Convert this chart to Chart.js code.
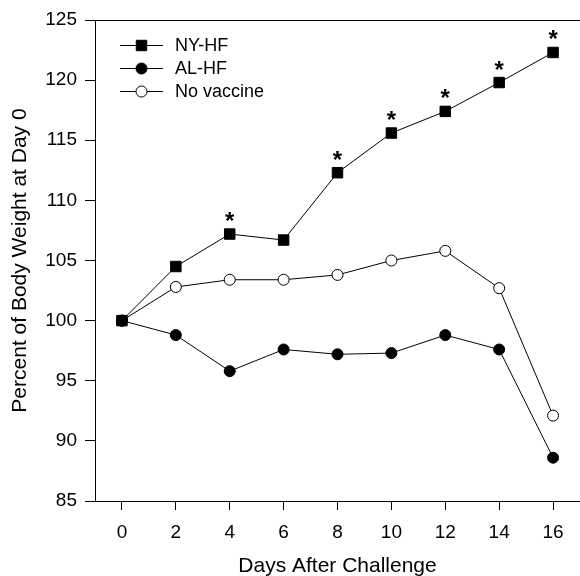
<!DOCTYPE html>
<html>
<head>
<meta charset="utf-8">
<script src="https://cdn.jsdelivr.net/npm/chart.js@4.4.1/dist/chart.umd.min.js"></script>
<style>
  html, body { margin: 0; padding: 0; background: #fff; }
  #wrap { width: 580px; height: 576px; }
</style>
</head>
<body>
<div id="wrap"><canvas id="c" width="580" height="576"></canvas></div>
<script>
// Body weight (% of day 0) after challenge, by vaccine group
const days = [0, 2, 4, 6, 8, 10, 12, 14, 16];
const nyHF = [100, 104.5, 107.2, 106.7, 112.3, 115.6, 117.4, 119.8, 122.3];
const alHF = [100, 98.8, 95.8, 97.6, 97.2, 97.3, 98.8, 97.6, 88.6];
const noVaccine = [100, 102.8, 103.4, 103.4, 103.8, 105.0, 105.8, 102.7, 92.1];
const seriesNames = ['NY-HF', 'AL-HF', 'No vaccine'];
// days where NY-HF differs significantly (marked with *)
const significantDays = [4, 8, 10, 12, 14, 16];
const xTicks = [0, 2, 4, 6, 8, 10, 12, 14, 16];
const yTicks = [85, 90, 95, 100, 105, 110, 115, 120, 125];

const FONT = 'Arial, "Liberation Sans", Helvetica, sans-serif';

function toPoints(values) {
  return days.map((d, i) => ({ x: d, y: values[i] }));
}

function series(label, values, style, fill, radius) {
  return {
    label: label,
    data: toPoints(values),
    borderColor: '#000',
    borderWidth: 1,
    tension: 0,
    fill: false,
    pointStyle: style,
    pointRadius: radius,
    pointHoverRadius: radius,
    pointBackgroundColor: fill,
    pointBorderColor: '#000',
    pointBorderWidth: 1
  };
}

// asterisks above the significant NY-HF points
const asteriskPlugin = {
  id: 'asterisks',
  afterDatasetsDraw(chart) {
    const ctx = chart.ctx;
    const meta = chart.getDatasetMeta(0);
    ctx.save();
    ctx.font = 'bold 24px ' + FONT;
    ctx.textAlign = 'center';
    ctx.textBaseline = 'alphabetic';
    ctx.fillStyle = '#000';
    significantDays.forEach(d => {
      const p = meta.data[days.indexOf(d)];
      ctx.fillText('*', p.x, p.y - 5);
    });
    ctx.restore();
  }
};

// legend drawn inside the plot, line sample with marker
const insideLegend = {
  id: 'insideLegend',
  afterDraw(chart) {
    const ctx = chart.ctx;
    const a = chart.chartArea;
    const x0 = a.left + 25, x1 = a.left + 68, tx = a.left + 80;
    let y = a.top + 25;
    chart.data.datasets.forEach(ds => {
      ctx.save();
      ctx.strokeStyle = ds.borderColor;
      ctx.lineWidth = ds.borderWidth;
      ctx.beginPath();
      ctx.moveTo(x0, Math.round(y) + 0.5);
      ctx.lineTo(x1, Math.round(y) + 0.5);
      ctx.stroke();
      ctx.fillStyle = ds.pointBackgroundColor;
      ctx.strokeStyle = ds.pointBorderColor;
      ctx.lineWidth = ds.pointBorderWidth;
      Chart.helpers.drawPoint(ctx, {
        pointStyle: ds.pointStyle,
        radius: ds.pointRadius,
        borderWidth: ds.pointBorderWidth,
        rotation: 0
      }, (x0 + x1) / 2, y + 0.5);
      ctx.fillStyle = '#000';
      ctx.font = '18px ' + FONT;
      ctx.textBaseline = 'middle';
      ctx.textAlign = 'left';
      ctx.fillText(ds.label, tx, y + 1);
      ctx.restore();
      y += 23;
    });
  }
};

// top frame line
const topFrame = {
  id: 'topFrame',
  afterDraw(chart) {
    const ctx = chart.ctx;
    const a = chart.chartArea;
    ctx.save();
    ctx.strokeStyle = '#000';
    ctx.lineWidth = 1;
    ctx.beginPath();
    ctx.moveTo(a.left, Math.round(a.top) + 0.5);
    ctx.lineTo(a.right, Math.round(a.top) + 0.5);
    ctx.stroke();
    ctx.restore();
  }
};

new Chart(document.getElementById('c'), {
  type: 'line',
  data: {
    datasets: [
      series(seriesNames[0], nyHF, 'rect', '#000', 7.4),
      series(seriesNames[1], alHF, 'circle', '#000', 5.5),
      series(seriesNames[2], noVaccine, 'circle', '#fff', 5.5)
    ]
  },
  options: {
    responsive: false,
    animation: false,
    layout: { autoPadding: false, padding: { left: 0, right: 0, top: 20, bottom: 0 } },
    plugins: {
      legend: { display: false },
      tooltip: { enabled: false }
    },
    scales: {
      x: {
        type: 'linear',
        min: -1,
        max: 17,
        afterBuildTicks: s => { s.ticks = xTicks.map(v => ({ value: v })); },
        afterFit: s => { s.height = 75; s.paddingLeft = 0; s.paddingRight = 0; },
        grid: { drawOnChartArea: false, drawTicks: true, tickLength: 9, color: '#000', lineWidth: 1 },
        border: { display: true, color: '#000', width: 1 },
        ticks: { color: '#000', font: { family: FONT, size: 19 }, padding: 11, maxRotation: 0, autoSkip: false },
        title: {
          display: true,
          text: 'Days After Challenge',
          color: '#000',
          font: { family: FONT, size: 21, lineHeight: 1 },
          padding: { top: 0, bottom: -1 }
        }
      },
      y: {
        type: 'linear',
        min: 85,
        max: 125,
        afterBuildTicks: s => { s.ticks = yTicks.map(v => ({ value: v })); },
        afterFit: s => { s.width = 95; s.paddingTop = 0; s.paddingBottom = 0; },
        grid: { drawOnChartArea: false, drawTicks: true, tickLength: 10, color: '#000', lineWidth: 1 },
        border: { display: true, color: '#000', width: 1 },
        ticks: { color: '#000', font: { family: FONT, size: 19 }, padding: 8 },
        title: {
          display: true,
          text: 'Percent of Body Weight at Day 0',
          color: '#000',
          font: { family: FONT, size: 21, lineHeight: 1 },
          padding: { top: 10, bottom: 0 }
        }
      }
    }
  },
  plugins: [asteriskPlugin, insideLegend, topFrame]
});
</script>
</body>
</html>
